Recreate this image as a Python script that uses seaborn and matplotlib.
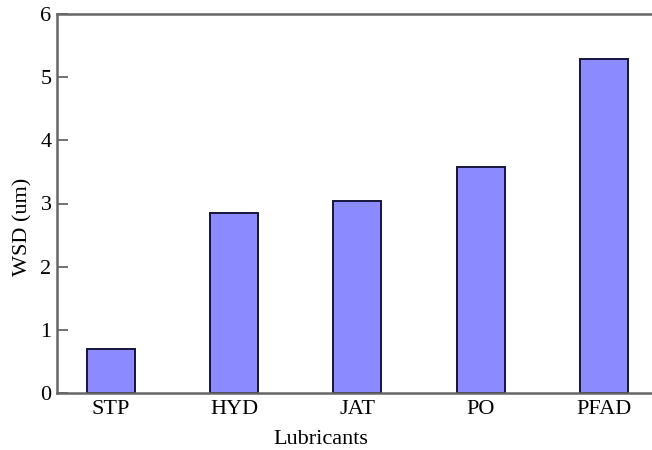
import matplotlib
matplotlib.use("Agg")
import matplotlib.pyplot as plt
import seaborn as sns
import pandas as pd

lubricants = ["STP", "HYD", "JAT", "PO", "PFAD"]
wsd_values = [0.69, 2.845, 3.035, 3.573, 5.292]
y_ticks = [0, 1, 2, 3, 4, 5, 6]

sns.set_style("white")
plt.rcParams["font.family"] = ["Liberation Serif", "DejaVu Serif"]
plt.rcParams["text.color"] = "black"
plt.rcParams["axes.labelcolor"] = "black"
plt.rcParams["xtick.color"] = "black"
plt.rcParams["ytick.color"] = "black"

df = pd.DataFrame({"Lubricants": lubricants, "WSD": wsd_values})

fig = plt.figure(figsize=(6.52, 4.5), dpi=100)
ax = fig.add_axes([57/652, 57/450, 1 - 57/652, (393-14)/450])

sns.barplot(data=df, x="Lubricants", y="WSD", order=lubricants, color="#8b8bff",
            saturation=1, width=0.39, edgecolor="#15153a", linewidth=1.4, ax=ax)

ax.set_xlim(-0.435, 4.39)
ax.set_ylim(0, 6)
ax.set_yticks(y_ticks)
ax.set_yticklabels([str(t) for t in y_ticks])

for side in ["left", "top", "bottom"]:
    ax.spines[side].set_color("#666666")
    ax.spines[side].set_linewidth(1.8)
ax.spines["right"].set_visible(False)

ax.tick_params(axis="y", direction="in", length=8, width=1.3, color="#666666",
               labelcolor="black", labelsize=16, pad=4, left=True)
ax.tick_params(axis="x", length=0, labelsize=16, pad=5, labelcolor="black")

ax.set_xlabel("Lubricants", fontsize=16, color="black")
ax.set_ylabel("WSD (um)", fontsize=16, color="black")
ax.xaxis.set_label_coords((321-57)/595, -37/379)
ax.yaxis.set_label_coords(-25/595, (393-227)/379)

fig.savefig("out.png", dpi=100)
